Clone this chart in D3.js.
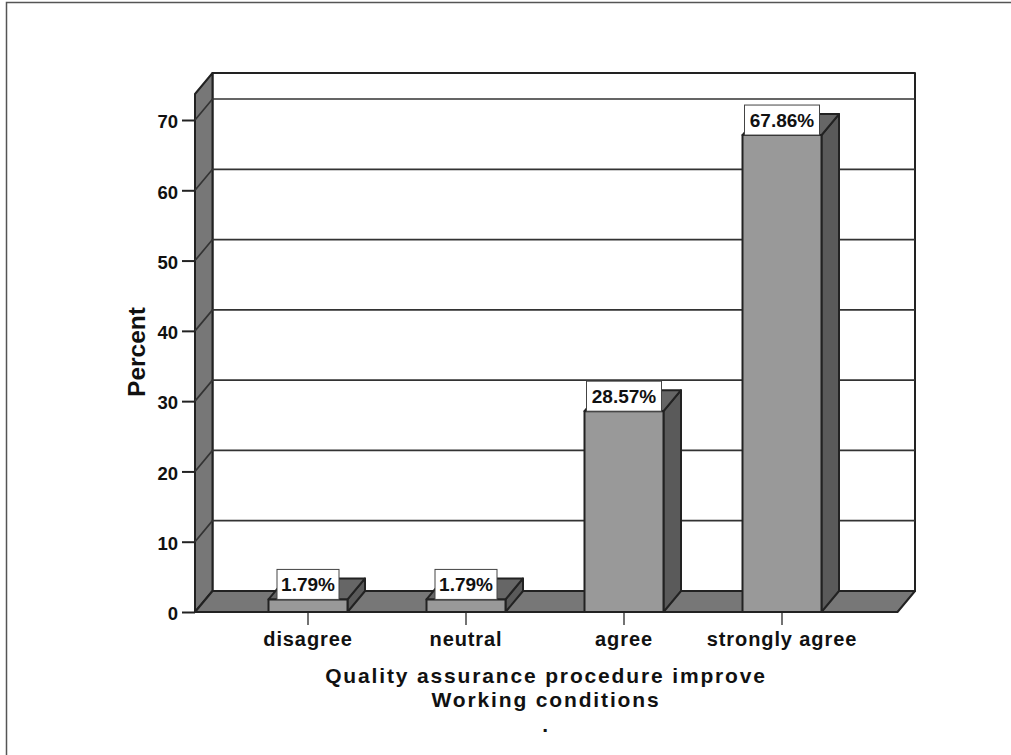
<!DOCTYPE html>
<html>
<head>
<meta charset="utf-8">
<script src="https://cdnjs.cloudflare.com/ajax/libs/d3/7.8.5/d3.min.js"></script>
<style>
  html, body { margin: 0; padding: 0; background: #fff; }
  svg { display: block; }
  text { font-family: "Liberation Sans", Arial, sans-serif; font-weight: bold; fill: #111; }
</style>
</head>
<body>
<svg id="chart" width="1011" height="755"></svg>
<script>
const categories = ["disagree", "neutral", "agree", "strongly agree"];
const percents = [1.79, 1.79, 28.57, 67.86];
const percentLabels = ["1.79%", "1.79%", "28.57%", "67.86%"];
const yTicks = [0, 10, 20, 30, 40, 50, 60, 70];
const xTitleLines = ["Quality assurance procedure improve", "Working conditions", "."];

const svg = d3.select("#chart");

// Pseudo-3D offset between the front plane and the back wall.
const depthX = 17.5, depthY = -21;
const frontLeft = 195, frontRight = 897.5;
const yMax = 73.7;

const y = d3.scaleLinear().domain([0, 70]).range([612, 120]);
const x = d3.scaleBand().domain(categories).range([229, 861]).paddingInner(0.5).paddingOuter(0.25);
const y0 = y(0), yTop = y(yMax);

const poly = (pts, fill) => svg.append("path")
  .attr("d", "M" + pts.map(p => p.join(",")).join("L") + "Z")
  .attr("fill", fill).attr("stroke", "#222").attr("stroke-width", 2).attr("stroke-linejoin", "round");

// Outer frame
svg.append("path").attr("d", "M6.5,755V2.5H1011").attr("fill", "none").attr("stroke", "#555").attr("stroke-width", 1.5);

// Back wall, left wall and floor
poly([[frontLeft + depthX, yTop + depthY], [frontRight + depthX, yTop + depthY], [frontRight + depthX, y0 + depthY], [frontLeft + depthX, y0 + depthY]], "#fff");
poly([[frontLeft, yTop], [frontLeft + depthX, yTop + depthY], [frontLeft + depthX, y0 + depthY], [frontLeft, y0]], "#777");
poly([[frontLeft, y0], [frontLeft + depthX, y0 + depthY], [frontRight + depthX, y0 + depthY], [frontRight, y0]], "#777");

// Gridlines run across the back wall and fold down the left wall
const grid = svg.append("g").attr("fill", "none").attr("stroke", "#333").attr("stroke-width", 1.7);
yTicks.filter(t => t > 0).forEach(t => {
  grid.append("path").attr("d", `M${frontLeft},${y(t)}L${frontLeft + depthX},${y(t) + depthY}H${frontRight + depthX}`);
});

// Value axis
const yAxis = d3.axisLeft(y).tickValues(yTicks).tickSize(13).tickPadding(4).tickFormat(d3.format("d"));
const gy = svg.append("g").attr("transform", `translate(${frontLeft},0)`).call(yAxis);
gy.select(".domain").remove();
gy.selectAll("line").attr("stroke", "#222").attr("stroke-width", 2);
gy.selectAll("text").style("font-size", "18.5px").attr("dy", "0.42em").attr("fill", "#111");

// Category axis
const xAxis = d3.axisBottom(x).tickSize(13).tickPadding(7);
const gx = svg.append("g").attr("transform", `translate(0,${y0})`).call(xAxis);
gx.select(".domain").remove();
gx.selectAll("line").attr("stroke", "#444").attr("stroke-width", 1.5);
gx.selectAll("text").style("font-size", "20px").style("letter-spacing", "0.9px").attr("fill", "#111");

// Bars: side and top faces first, then the front
categories.forEach((c, i) => {
  const l = x(c), r = l + x.bandwidth(), t = y(percents[i]);
  poly([[r, y0], [r + depthX, y0 + depthY], [r + depthX, t + depthY], [r, t]], "#5a5a5a");
  poly([[l, t], [l + depthX, t + depthY], [r + depthX, t + depthY], [r, t]], "#666");
  poly([[l, y0], [l, t], [r, t], [r, y0]], "#999");
});

// Redraw the front baseline over the bar feet
svg.append("line").attr("x1", frontLeft).attr("x2", frontRight).attr("y1", y0).attr("y2", y0)
  .attr("stroke", "#222").attr("stroke-width", 2);

// Value labels in white boxes sitting on each bar
categories.forEach((c, i) => {
  const cx = x(c) + x.bandwidth() / 2, t = y(percents[i]);
  const w = percentLabels[i].length === 5 ? 62 : 75;
  svg.append("rect").attr("x", cx - w / 2).attr("y", t - 30).attr("width", w).attr("height", 30)
    .attr("fill", "#fff").attr("stroke", "#444").attr("stroke-width", 1);
  svg.append("text").attr("x", cx).attr("y", t - 8).attr("text-anchor", "middle")
    .style("font-size", "19px").text(percentLabels[i]);
});

// Axis titles
svg.append("text").attr("transform", "translate(145,352) rotate(-90)").attr("text-anchor", "middle")
  .style("font-size", "24.5px").text("Percent");
svg.selectAll(".xtitle").data(xTitleLines).join("text").attr("class", "xtitle")
  .attr("x", 546).attr("y", (d, i) => 683 + i * 24.3).attr("text-anchor", "middle")
  .style("font-size", "21px").style("letter-spacing", "1.85px").text(d => d);
</script>
</body>
</html>
